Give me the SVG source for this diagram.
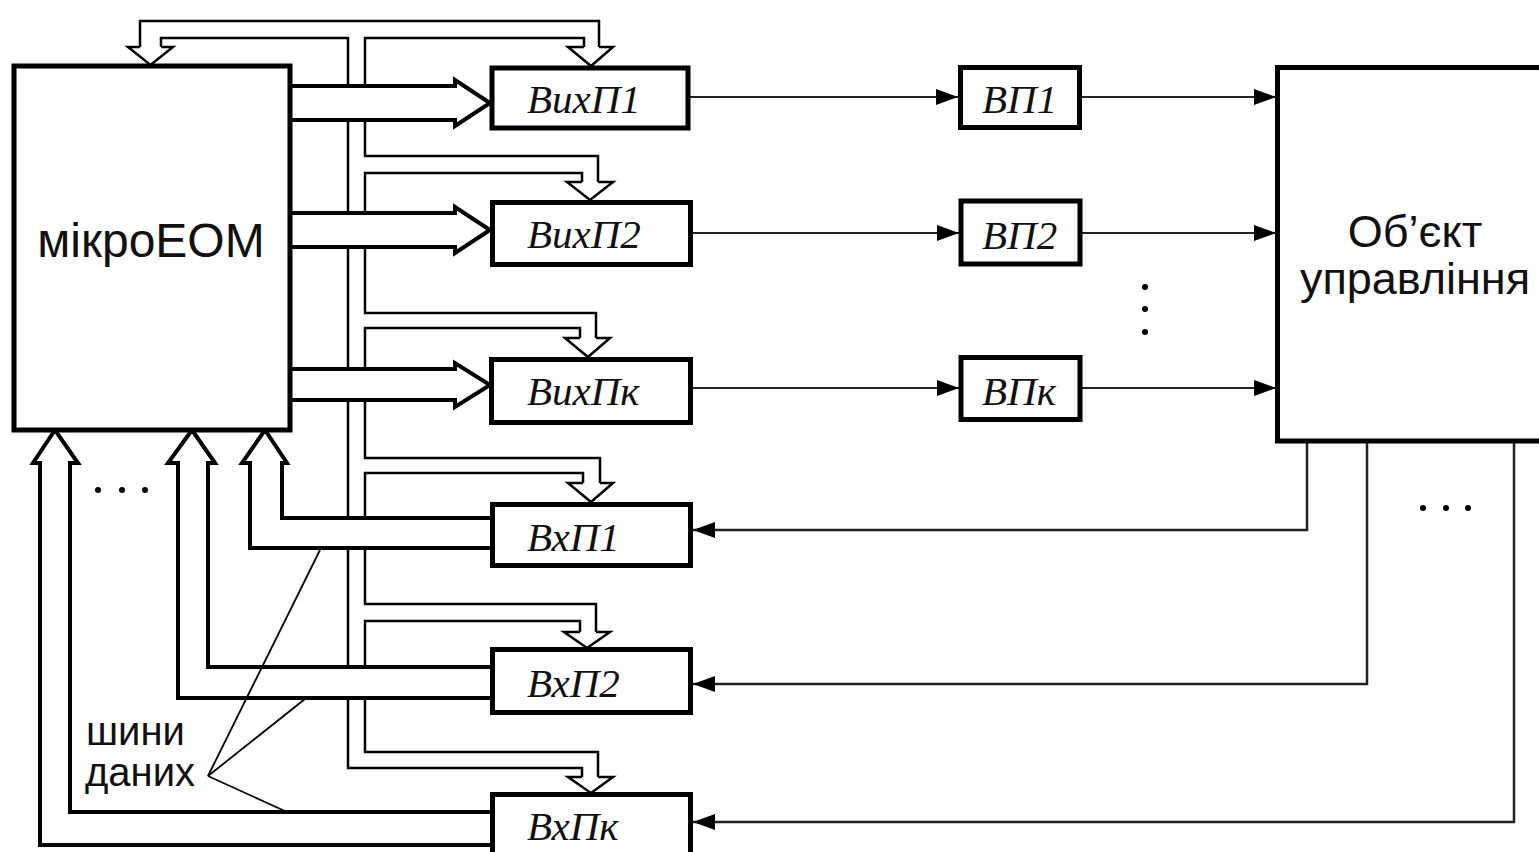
<svg xmlns="http://www.w3.org/2000/svg" width="1539" height="852" viewBox="0 0 1539 852">
<style>
.box{fill:#fff;stroke:#000;stroke-width:5}
.bus{fill:none;stroke:#000;stroke-width:2.5;stroke-linejoin:miter}
.dbus{fill:#fff;stroke:#000;stroke-width:4;stroke-linejoin:miter}
.sig{fill:none;stroke:#222;stroke-width:2}
.lead{fill:none;stroke:#000;stroke-width:1.8}
.sans{font-family:"Liberation Sans",Arial,sans-serif;fill:#111}
.ser{font-family:"Liberation Serif","Times New Roman",serif;font-style:italic;font-size:41px;fill:#111}
.dot{fill:#000}
</style>
<defs>
<marker id="ah" markerWidth="22" markerHeight="16" refX="22" refY="8" orient="auto" markerUnits="userSpaceOnUse"><path d="M0,0 L22,8 L0,16 Z" fill="#000"/></marker>
</defs>
<rect x="0" y="0" width="1539" height="852" fill="#fff"/>
<g id="connectors">
  <g id="control-bus" class="bus">
    <path d="M140,47 V21 H599 V47"/>
    <path d="M161,47 V38 H348 V768 H582 V777"/>
    <path d="M584,47 V38 H365 V156 H598 V182"/>
    <path d="M582,182 V173 H365 V313 H596 V338"/>
    <path d="M580,338 V328 H365 V458 H600 V483"/>
    <path d="M583,483 V473 H365 V604 H596 V632"/>
    <path d="M580,632 V621 H365 V752 H598 V777"/>
    <path d="M140,47 H128 L150.5,65 L173,47 H161"/>
    <path d="M584,47 H568 L591,66 L613,47 H599"/>
    <path d="M582,182 H567 L590,200 L613,182 H598"/>
    <path d="M580,338 H565 L588,357 L610,338 H596"/>
    <path d="M583,483 H568 L591,502 L613,483 H600"/>
    <path d="M580,632 H564 L587,648 L610,632 H596"/>
    <path d="M582,777 H568 L591,793 L613,777 H598"/>
  </g>
  <g id="data-buses" class="dbus">
    <path d="M290,86 H455 V80 L490,103 L455,126 V120 H290 Z"/>
    <path d="M290,213 H455 V207 L490,230 L455,253 V247 H290 Z"/>
    <path d="M290,369 H455 V363 L490,385 L455,407 V400 H290 Z"/>
    <path d="M492,518 H282 V463 H287 L265,430 L242,463 H250 V548 H492 Z"/>
    <path d="M492,667 H208 V463 H215 L192,430 L168,463 H178 V698 H492 Z"/>
    <path d="M492,812 H70 V463 H78 L55,430 L33,463 H40 V845 H492 Z"/>
  </g>
  <g id="signals" class="sig">
    <path d="M690,97 H958" marker-end="url(#ah)"/>
    <path d="M1080,97 H1276" marker-end="url(#ah)"/>
    <path d="M690,233 H959" marker-end="url(#ah)"/>
    <path d="M1080,233 H1276" marker-end="url(#ah)"/>
    <path d="M690,388 H959" marker-end="url(#ah)"/>
    <path d="M1080,388 H1276" marker-end="url(#ah)"/>
    <path d="M1307,441 V530 H693" marker-end="url(#ah)" stroke-width="2.5"/>
    <path d="M1367,441 V684 H693" marker-end="url(#ah)" stroke-width="2.5"/>
    <path d="M1514,441 V822 H693" marker-end="url(#ah)" stroke-width="2.5"/>
  </g>
  <g id="leaders" class="lead">
    <path d="M320,550 L208,776"/>
    <path d="M305,699 L208,776"/>
    <path d="M287,812 L208,776"/>
  </g>
</g>
<g id="microEOM">
  <rect class="box" x="14" y="66" width="276" height="364" stroke-width="6"/>
  <text class="sans" x="151" y="257" font-size="48" text-anchor="middle">мікроЕОМ</text>
</g>
<g id="VykhP1">
  <rect class="box" x="492" y="68" width="196" height="60"/>
  <text class="ser" x="527" y="113">ВихП1</text>
</g>
<g id="VykhP2">
  <rect class="box" x="492.5" y="202.5" width="198" height="62"/>
  <text class="ser" x="527" y="248">ВихП2</text>
</g>
<g id="VykhPk">
  <rect class="box" x="491.5" y="359.5" width="199" height="63"/>
  <text class="ser" x="527" y="405">ВихПк</text>
</g>
<g id="VkhP1">
  <rect class="box" x="492.5" y="504.5" width="198" height="61"/>
  <text class="ser" x="527" y="551">ВхП1</text>
</g>
<g id="VkhP2">
  <rect class="box" x="492.5" y="649.5" width="198" height="63"/>
  <text class="ser" x="527" y="697">ВхП2</text>
</g>
<g id="VkhPk">
  <rect class="box" x="492.5" y="794.5" width="198" height="80"/>
  <text class="ser" x="527" y="840">ВхПк</text>
</g>
<g id="VP1">
  <rect class="box" x="960.5" y="67.5" width="119" height="60"/>
  <text class="ser" x="982" y="113">ВП1</text>
</g>
<g id="VP2">
  <rect class="box" x="961" y="201" width="119" height="63"/>
  <text class="ser" x="982" y="249">ВП2</text>
</g>
<g id="VPk">
  <rect class="box" x="961" y="357.5" width="119" height="62"/>
  <text class="ser" x="982" y="405">ВПк</text>
</g>
<g id="object">
  <rect class="box" x="1277.5" y="67.5" width="300" height="373.5"/>
  <text class="sans" x="1415" y="247" font-size="45" text-anchor="middle">Об’єкт</text>
  <text class="sans" x="1415" y="294" font-size="45" text-anchor="middle">управління</text>
</g>
<g id="label-buses">
  <text class="sans" x="86" y="745" font-size="40">шини</text>
  <text class="sans" x="85" y="786" font-size="40">даних</text>
</g>
<g id="ellipses" class="dot">
  <circle cx="98" cy="490" r="3"/><circle cx="122" cy="490" r="3"/><circle cx="145" cy="490" r="3"/>
  <circle cx="1145" cy="287" r="3"/><circle cx="1145" cy="309" r="3"/><circle cx="1145" cy="332" r="3"/>
  <circle cx="1423" cy="508" r="3"/><circle cx="1446" cy="508" r="3"/><circle cx="1468" cy="508" r="3"/>
</g>
</svg>
